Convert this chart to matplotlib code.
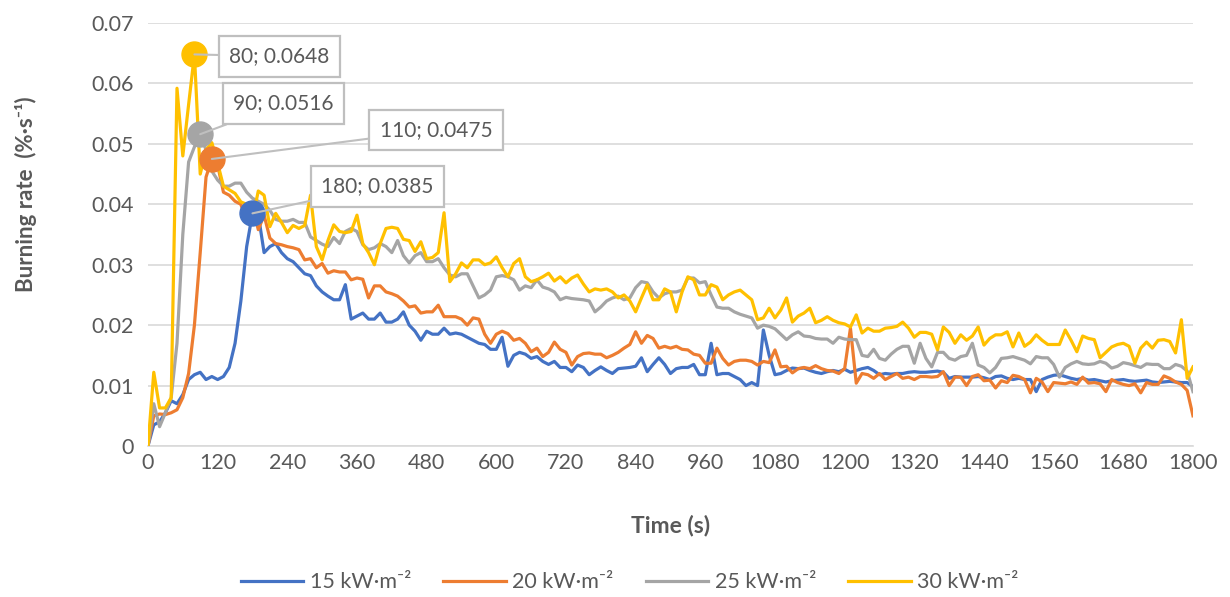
import numpy as np
import matplotlib
matplotlib.use('Agg')
import matplotlib.pyplot as plt

plt.rcParams['font.family'] = ['Lato', 'DejaVu Sans']

# sampling every 10 s over the 30 min test
time_s = np.arange(0, 1801, 10)

# burning rate in thousandths of %/s, one row per 100 s
rate_15 = [
    0, 3.5, 4, 5.5, 7.5, 7, 8.5, 11, 11.8, 12.2,
    11, 11.5, 11, 11.5, 13, 17, 24, 33, 38.5, 38.3,
    32, 33, 33.5, 32, 31, 30.5, 29.5, 28.5, 28.2, 26.5,
    25.5, 24.8, 24.2, 24.2, 26.7, 21, 21.5, 22, 21, 21,
    22, 20.5, 20.5, 21, 22.2, 20, 19, 17.5, 19, 18.5,
    18.5, 19.5, 18.5, 18.7, 18.5, 18, 17.5, 17, 16.8, 16,
    16, 18, 13.2, 15, 15.5, 15.2, 14.5, 14.8, 14, 13.5,
    14, 13, 13, 12.3, 13.4, 13, 11.8, 12.5, 13.1, 12.5,
    12, 12.8, 12.9, 13, 13.2, 14.6, 12.3, 13.5, 14.6, 13.5,
    12, 12.8, 13, 13, 13.5, 11.8, 11.8, 17, 11.8, 12,
    12, 11.5, 11, 10, 10.5, 10, 19.2, 15, 11.8, 12,
    12.5, 12.9, 12.8, 12.9, 12.5, 12.2, 12, 12.3, 12.5, 12.3,
    12.7, 12.2, 12.5, 12.8, 13, 12.5, 11.8, 12, 11.9, 12,
    12, 12.2, 12.3, 12.2, 12.2, 12.3, 12.4, 12.2, 11.2, 11.5,
    11.4, 11.4, 11.4, 11.5, 11.3, 11, 11.5, 11.6, 11.2, 11,
    11.2, 11, 11, 9, 11, 11.4, 11.7, 11.8, 11.5, 11.2,
    11, 11.2, 10.9, 11, 10.8, 10.6, 10.8, 10.9, 11, 10.8,
    10.7, 10.8, 10.9, 10.6, 10.5, 10.6, 10.7, 10.6, 10.5, 10.5,
    9.8,
]
rate_20 = [
    0, 5, 5.3, 5.2, 5.5, 6, 8, 12, 20, 32,
    44.5, 47.5, 46.5, 42, 41.5, 40.5, 40, 37, 39.8, 35.8,
    38.2, 34.4, 33.5, 33.3, 33, 32.8, 32.5, 30.8, 31, 29.5,
    30.2, 28.6, 29, 28.8, 28.8, 27.5, 27.8, 27.6, 24.5, 26.5,
    26.5, 25.5, 25.2, 24.8, 24, 23, 23.2, 22, 22.2, 22.2,
    23.3, 21.4, 21.4, 21.4, 21, 20, 21.2, 21, 18.5, 17,
    18.5, 19, 18.6, 17.5, 17.8, 17, 15.6, 16.2, 14.8, 15.5,
    17.2, 16, 15.5, 13.4, 14.8, 15.3, 15.4, 15.2, 15.2, 14.6,
    15, 15.5, 16.2, 16.8, 18.9, 17, 18.3, 17.8, 16.2, 16.5,
    16.2, 16.5, 16, 15.9, 15.2, 15, 13.7, 13.7, 16.2, 14.5,
    13.4, 14, 14.2, 14.2, 14, 13.4, 14, 13.8, 15.9, 13.1,
    13.2, 12.1, 12.8, 13, 12.8, 13.3, 12.8, 12.5, 12.4, 12,
    12.8, 19.5, 10.4, 12, 11.8, 11.2, 12, 11, 11.5, 12,
    11.2, 11.4, 11, 11.5, 11.5, 11.4, 11.5, 12.3, 10, 11.4,
    11.4, 10, 11.5, 11.8, 10.8, 10.9, 9.6, 10.8, 10.5, 11.7,
    11.5, 11, 8.8, 11.2, 10.6, 9, 10.5, 10.4, 10.3, 10.6,
    10.2, 11.4, 10.4, 10.5, 10.3, 9, 11, 10.5, 10.2, 10,
    10.3, 8.8, 10.5, 10.2, 10.2, 11.6, 11.2, 10.6, 10.2, 9.2,
    5,
]
rate_25 = [
    0, 7, 3.2, 5.5, 8, 17, 35, 47, 49.5, 51.6,
    49, 45.5, 44, 43, 43, 43.5, 43.5, 42, 41, 40.5,
    40, 39, 37.5, 37.2, 37.2, 37.5, 37, 37, 34.6, 34,
    33.4, 33, 34.5, 33.5, 35.5, 36, 35.5, 33.3, 32.5, 32.8,
    33.5, 33, 32, 34, 31.5, 30.3, 31.5, 32, 30.5, 30.5,
    31, 29.5, 28.3, 28, 28.5, 28.5, 26.5, 24.5, 25, 25.8,
    28, 28.2, 28, 27.5, 25.8, 26.5, 26.2, 27.5, 26.3, 26,
    25.5, 24.2, 24.6, 24.4, 24.3, 24.2, 24, 22.2, 23, 24,
    24.5, 24.8, 24.2, 24.5, 26.2, 27.2, 27, 25.5, 24.5, 25.2,
    25.5, 25.5, 25.8, 27.8, 27.8, 27, 27.2, 25, 23, 22.8,
    22.8, 22.2, 21.8, 21.5, 21.2, 19.5, 20, 19.8, 19.4, 18.5,
    17.6, 18.4, 18.9, 18.2, 18.1, 17.8, 17.7, 17.7, 17, 18,
    17.7, 17.6, 17.6, 15, 14.8, 16, 14.5, 14.2, 15.2, 16,
    16.5, 16.5, 13.7, 17, 14.5, 13.1, 15.5, 15.5, 14.5, 14.2,
    14.8, 15, 17, 13.4, 13, 12.1, 13, 14.5, 14.6, 14.8,
    14.5, 14.2, 13.6, 14.8, 14.6, 14.6, 13.5, 11.4, 13, 13.6,
    14, 13.6, 13.5, 13.6, 14, 13.7, 12.9, 13.2, 13.8, 13.6,
    13.3, 13, 13.6, 13.5, 13.5, 12.8, 12.8, 13.5, 13.2, 12.4,
    9,
]
rate_30 = [
    0, 12.2, 6.3, 6.3, 8, 59.2, 48, 56.5, 64.8, 45,
    49, 50.2, 46.8, 43, 42.4, 41.8, 40.4, 40, 37.5, 42.2,
    41.5, 36.3, 38.5, 37, 35.3, 36.5, 36, 36.5, 41.5, 33,
    30.8, 34, 36.6, 35.5, 35.3, 35.5, 38.2, 33.5, 32, 30,
    33.5, 36, 36.2, 36, 34.2, 34, 32.2, 33.8, 31, 31.2,
    32, 38.6, 27.2, 28.5, 30.3, 29.5, 30.8, 30.8, 30, 30.3,
    31.3, 29.5, 28, 30.2, 31, 28, 27.2, 27.5, 28, 28.6,
    27.3, 28, 27, 27.8, 28.3, 26.8, 25.5, 26, 25.8, 26,
    25.5, 24.5, 25, 24, 22.2, 24.5, 26.7, 24.2, 24.2, 26,
    25.5, 22.2, 25.5, 28, 27.5, 25, 25, 26.7, 26.3, 24.2,
    25, 25.5, 25.8, 25, 24.2, 20.9, 21.2, 22.8, 21.2, 22.5,
    24.5, 20.5, 21.5, 22, 22.8, 20.4, 20.8, 21.4, 20.8, 20.4,
    20.2, 19.7, 21.7, 18.7, 19.5, 19, 19, 19.5, 19.6, 19.8,
    20.5, 19.5, 18, 18.8, 18.8, 18.5, 15.9, 19.7, 18.8, 17,
    18.4, 17.5, 18.2, 19.7, 16.7, 17.8, 18.4, 18.4, 18.9, 16.4,
    18.7, 16.5, 17.2, 18.4, 17.5, 16.8, 16.8, 16.8, 19.2, 17.5,
    15.6, 18.2, 17.8, 17.6, 14.6, 15.5, 16.4, 16.8, 17, 16.5,
    13.7, 16.2, 17.2, 16.2, 17.5, 17.6, 17.3, 15.4, 20.9, 11.2,
    13.1,
]

series_names = ['15 kW·m⁻²', '20 kW·m⁻²', '25 kW·m⁻²', '30 kW·m⁻²']
series_colors = ['#4472C4', '#ED7D31', '#A5A5A5', '#FFC000']
series_rates = [rate_15, rate_20, rate_25, rate_30]

# where each peak label box sits, offset in pixels from the peak
label_offsets = [(125, 27), (224, 29), (83, 31), (85, -2)]

x_ticks = np.arange(0, 1801, 120)
y_ticks = np.arange(0, 0.0701, 0.01)
y_tick_labels = ['0', '0.01', '0.02', '0.03', '0.04', '0.05', '0.06', '0.07']

grey_txt = '#595959'

fig = plt.figure(figsize=(12.3, 5.97), dpi=100)
ax = fig.add_axes([0.1203, 0.2529, 0.8496, 0.7086])

for name, color, rate, offs in zip(series_names, series_colors, series_rates, label_offsets):
    vals = np.array(rate) / 1000.0
    assert len(vals) == len(time_s), name
    ax.plot(time_s, vals, color=color, lw=2.3, label=name, solid_joinstyle='round', zorder=3)
    i = int(np.argmax(vals))
    ax.plot(time_s[i], vals[i], 'o', color=color, ms=18, mec=color, zorder=4)
    ax.annotate('%d; %.4f' % (time_s[i], vals[i]), xy=(time_s[i], vals[i]),
                xytext=offs, textcoords='offset pixels', ha='center', va='center',
                fontsize=15, color=grey_txt, zorder=6,
                bbox=dict(boxstyle='square,pad=0.5', fc='white', ec='#bfbfbf', lw=1.6),
                arrowprops=dict(arrowstyle='-', color='#bfbfbf', lw=1.5,
                                shrinkA=0, shrinkB=0))

ax.set_xlim(0, 1800)
ax.set_ylim(0, 0.07)
ax.set_xticks(x_ticks)
ax.set_yticks(y_ticks)
ax.set_yticklabels(y_tick_labels)
ax.tick_params(length=0, labelsize=15.5, labelcolor=grey_txt)
ax.tick_params(axis='x', pad=5)
ax.tick_params(axis='y', pad=10)
ax.grid(axis='y', color='#d9d9d9', lw=1.2)
ax.set_axisbelow(True)
for side in ['top', 'right', 'left']:
    ax.spines[side].set_visible(False)
ax.spines['bottom'].set_color('#d9d9d9')
ax.spines['bottom'].set_linewidth(1.2)

fig.text(0.545, 0.1206, 'Time (s)', ha='center', va='center',
         fontsize=16.5, fontweight='bold', color=grey_txt)
fig.text(0.021, 0.675, 'Burning rate  (%·s⁻¹)', ha='center', va='center',
         rotation=90, fontsize=16, fontweight='bold', color=grey_txt)

handles, labels = ax.get_legend_handles_labels()
fig.legend(handles, labels, loc='center', bbox_to_anchor=(0.512, 0.025), ncol=4,
           frameon=False, fontsize=15.5, handlelength=2.9, columnspacing=1.5,
           handletextpad=0.3, labelcolor=grey_txt)

fig.savefig('out.png', dpi=100)
